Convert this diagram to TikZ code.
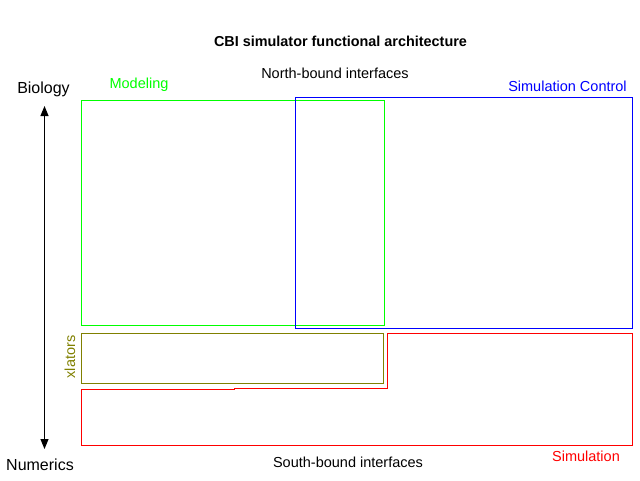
\documentclass[tikz,border=0pt]{standalone}
\usepackage{fontspec}
\setmainfont{Liberation Sans}
\usetikzlibrary{arrows.meta}
\definecolor{modgreen}{RGB}{0,255,0}
\definecolor{ctlblue}{RGB}{0,0,255}
\definecolor{simred}{RGB}{255,0,0}
\definecolor{xlolive}{RGB}{128,128,0}
\tikzset{
  lbl/.style={inner sep=0pt, font=\fontsize{14.5}{17}\selectfont},
  biglbl/.style={inner sep=0pt, font=\fontsize{16}{19}\selectfont},
  boxline/.style={line width=1pt},
}
\begin{document}
\begin{tikzpicture}[x=1pt,y=-1pt]
\useasboundingbox (0,0) rectangle (640,480);
% title
\node[inner sep=0pt, font=\bfseries\fontsize{14.4}{17}\selectfont] (title) at (340.5,41) {CBI simulator functional architecture};
% labels
\node[lbl] (north) at (335,73) {North-bound interfaces};
\node[lbl] (south) at (348,462) {South-bound interfaces};
\node[biglbl] (bio) at (43.5,89) {Biology};
\node[biglbl] (num) at (40,465) {Numerics};
\node[lbl, text=modgreen] (modlbl) at (139,85) {Modeling};
\node[lbl, text=ctlblue] (ctllbl) at (567.5,86) {Simulation Control};
\node[lbl, text=simred] (simlbl) at (586,456) {Simulation};
\node[lbl, text=xlolive, rotate=90] (xllbl) at (70,357) {xlators};
% boxes
\draw[boxline, modgreen] (81.5,100.5) rectangle (384.5,325.5);
\draw[boxline, ctlblue] (295.5,97.5) rectangle (632.5,328.5);
\draw[boxline, xlolive] (81.5,333.5) rectangle (383.5,383.5);
\draw[boxline, simred] (81.5,389.5) -- (234,389.5) -- (234,388.5) -- (387.5,388.5) -- (387.5,333.5) -- (632.5,333.5) -- (632.5,445.5) -- (81.5,445.5) -- cycle;
% arrow
\coordinate (atop) at (44.5,106);
\coordinate (abot) at (44.5,449);
\draw[line width=1pt, {Triangle[length=10pt,width=8pt]}-{Triangle[length=10pt,width=8pt]}] (atop) -- (abot);
\end{tikzpicture}
\end{document}
